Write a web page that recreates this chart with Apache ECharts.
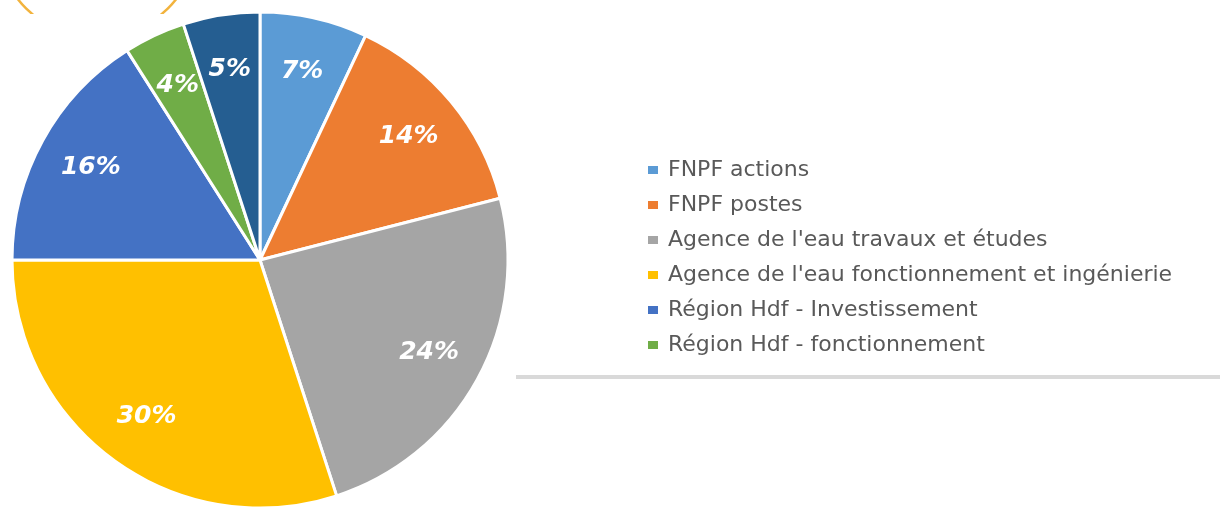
<!DOCTYPE html>
<html>
	<head>
		<meta charset="utf-8">
		<title>Financement</title>
		<script src="https://cdn.jsdelivr.net/npm/echarts@6/dist/echarts.min.js"></script>
		<style>
			html, body { margin: 0; padding: 0; background: #fff; }
			#mainCharts { width: 1220px; height: 507px; }
		</style>
	</head>
	<body>
		<div id="mainCharts"></div>
<script type="text/javascript">
	// noms des financeurs (le 7e n'apparait pas dans la legende)
	var names = ['FNPF actions', 'FNPF postes', "Agence de l'eau travaux et études",
		"Agence de l'eau fonctionnement et ingénierie", 'Région Hdf - Investissement',
		'Région Hdf - fonctionnement', 'Autres'];
	var values = [7, 14, 24, 30, 16, 4, 5];
	var colors = ['#5B9BD5', '#ED7D31', '#A5A5A5', '#FFC000', '#4472C4', '#70AD47', '#255E91'];
	var legendNames = names.slice(0, 6);

	var pieData = [];
	for (var i = 0; i < values.length; i++) {
		pieData.push({ name: names[i], value: values[i], itemStyle: { color: colors[i] } });
	}

	var myChart = echarts.init(document.getElementById('mainCharts'));
	myChart.setOption({
		animation: false,
		color: colors,
		legend: {
			orient: 'vertical',
			left: 641,
			top: 154,
			itemWidth: 12,
			itemHeight: 10,
			itemGap: 13,
			icon: 'rect',
			data: legendNames,
			textStyle: {
				fontFamily: 'DejaVu Sans',
				fontSize: 22,
				lineHeight: 22,
				color: '#595959',
				padding: [0, 0, 0, 4]
			}
		},
		graphic: [
			{ type: 'circle', z: 0, shape: { cx: 97, cy: -62, r: 100 },
				style: { fill: null, stroke: '#F2B33D', lineWidth: 2.5 } },
			{ type: 'rect', z: 1, shape: { x: 0, y: 14, width: 220, height: 32 },
				style: { fill: '#fff' } },
			{ type: 'line', z: 1, shape: { x1: 516, y1: 377, x2: 1220, y2: 377 },
				style: { stroke: '#D9D9D9', lineWidth: 4 } }
		],
		series: [
			{
				type: 'pie',
				center: [260, 260],
				radius: [0, 248],
				startAngle: 90,
				clockwise: true,
				z: 5,
				label: { show: false },
				labelLine: { show: false },
				itemStyle: { borderColor: '#fff', borderWidth: 3 },
				emphasis: { disabled: true },
				data: pieData
			},
			{
				// serie transparente pour placer les pourcentages vers l'exterieur
				type: 'pie',
				center: [260, 260],
				radius: [132, 248],
				startAngle: 90,
				clockwise: true,
				z: 6,
				silent: true,
				itemStyle: { color: 'rgba(0,0,0,0)' },
				labelLine: { show: false },
				label: {
					show: true,
					position: 'inside',
					formatter: '{d}%',
					color: '#fff',
					fontFamily: 'DejaVu Sans',
					fontWeight: 'bold',
					fontStyle: 'italic',
					fontSize: 25
				},
				emphasis: { disabled: true },
				data: values.map(function (v, i) { return { name: names[i], value: v }; })
			}
		]
	});
</script>
	</body>
</html>
